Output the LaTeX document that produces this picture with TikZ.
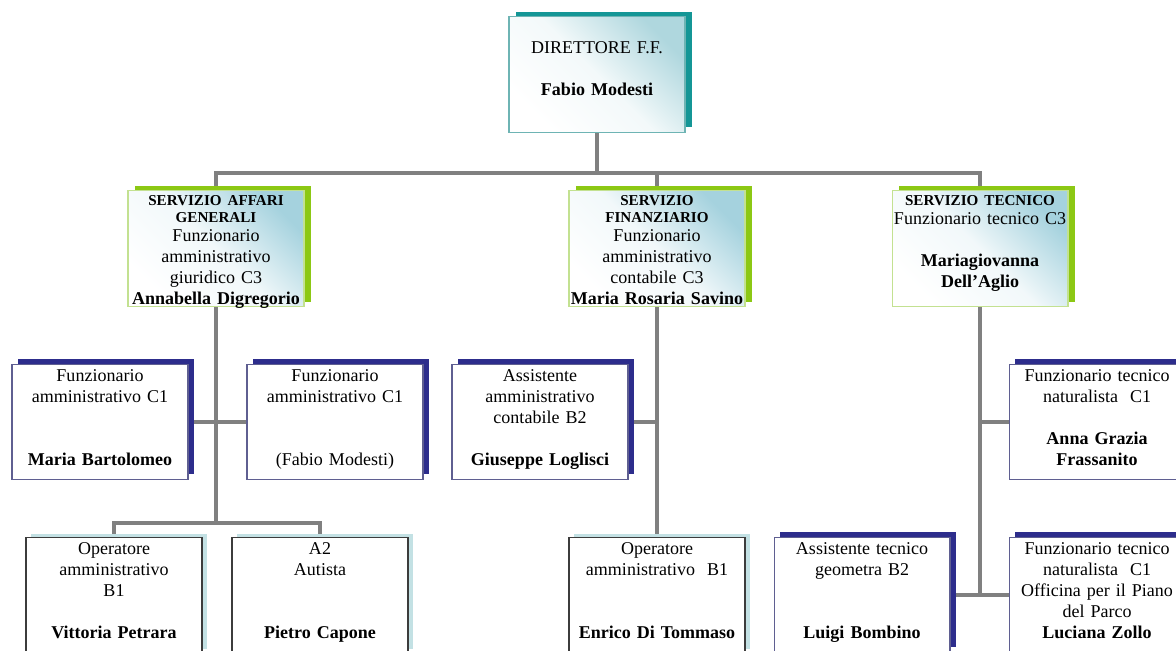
\documentclass[tikz,border=0pt]{standalone}
\usepackage{fontspec}
\setmainfont{Liberation Serif}
\usepackage{tikz}
\usetikzlibrary{shadows}

\definecolor{linegrey}{RGB}{128,128,128}
\definecolor{dirshadow}{RGB}{20,150,150}
\definecolor{dirborder}{RGB}{110,180,180}
\definecolor{dirtint}{RGB}{175,215,222}
\definecolor{headshadow}{RGB}{140,200,20}
\definecolor{headborder}{RGB}{195,225,145}
\definecolor{headtint}{RGB}{165,210,222}
\definecolor{staffshadow}{RGB}{45,45,140}
\definecolor{staffborder}{RGB}{95,95,145}
\definecolor{opshadow}{RGB}{195,225,228}
\definecolor{opborder}{RGB}{60,60,60}

\newcommand\headfont{\fontsize{8.6}{9.6}\selectfont\bfseries}

\pgfdeclarelayer{background}
\pgfsetlayers{background,main}

\tikzset{
	box/.style={shape=rectangle, anchor=north, inner sep=0pt, text width=3.52cm, align=center, line width=0.6pt, font=\fontsize{10.25}{11.9}\selectfont},
	topbox/.style={box, text height=0.74cm, text depth=1.58cm, draw=dirborder, top color=dirtint, bottom color=white, middle color=white!85!dirtint, shading angle=-45, drop shadow={shadow xshift=0.14cm, shadow yshift=0.1cm, fill=dirshadow, opacity=1}},
	headbox/.style={box, text height=0.30cm, text depth=2.02cm, draw=headborder, top color=headtint, bottom color=white, middle color=white!85!headtint, shading angle=-45, drop shadow={shadow xshift=0.14cm, shadow yshift=0.1cm, fill=headshadow, opacity=1}},
	staffbox/.style={box, text height=0.34cm, text depth=1.96cm, draw=staffborder, fill=white, drop shadow={shadow xshift=0.12cm, shadow yshift=0.12cm, fill=staffshadow, opacity=1}},
	opbox/.style={box, text height=0.34cm, text depth=1.96cm, draw=opborder, fill=white, drop shadow={shadow xshift=0.1cm, shadow yshift=0.08cm, fill=opshadow, opacity=1}},
	wire/.style={-, draw=linegrey, line width=2pt}
}

\begin{document}
\begin{tikzpicture}[x=0.02cm, y=-0.02cm]
	
	\useasboundingbox (0,0) rectangle (1176,651);
	\begin{pgfonlayer}{background}
		\fill[white] (0,0) rectangle (1176,651);
	\end{pgfonlayer}
	\clip (0,0) rectangle (1176,651);
	
	% direzione
	\node[topbox] (dir) at (597,16) {DIRETTORE F.F.\\~\\\textbf{Fabio Modesti}};
	
	% servizi
	\node[headbox] (sag) at (216,190) {{\headfont SERVIZIO AFFARI\\[-2.3pt]GENERALI}\\[-1pt]Funzionario\\amministrativo\\giuridico C3\\\textbf{Annabella Digregorio}};
	\node[headbox] (sf)  at (657,190) {{\headfont SERVIZIO\\[-2.3pt]FINANZIARIO}\\[-1pt]Funzionario\\amministrativo\\contabile C3\\\textbf{Maria Rosaria Savino}};
	\node[headbox] (st)  at (980,190) {{\headfont SERVIZIO TECNICO}\\[-1pt]Funzionario tecnico C3\\~\\\textbf{Mariagiovanna}\\\textbf{Dell'Aglio}};
	
	% affari generali
	\node[staffbox] (mb) at (100,364) {Funzionario\\amministrativo C1\\~\\~\\\textbf{Maria Bartolomeo}};
	\node[staffbox] (fm) at (335,364) {Funzionario\\amministrativo C1\\~\\~\\(Fabio Modesti)};
	\node[opbox]    (vp) at (114,537) {Operatore\\amministrativo\\B1\\~\\\textbf{Vittoria Petrara}};
	\node[opbox]    (pc) at (320,537) {A2\\Autista\\~\\~\\\textbf{Pietro Capone}};
	
	% finanziario
	\node[staffbox] (gl)  at (540,364) {Assistente\\amministrativo\\contabile B2\\~\\\textbf{Giuseppe Loglisci}};
	\node[opbox]    (edt) at (657,537) {Operatore\\amministrativo~~B1\\~\\~\\\textbf{Enrico Di Tommaso}};
	
	% tecnico
	\node[staffbox] (agf) at (1097,364) {Funzionario tecnico\\naturalista~~C1\\~\\\textbf{Anna Grazia}\\\textbf{Frassanito}};
	\node[staffbox] (lb)  at (862,537)  {Assistente tecnico\\geometra B2\\~\\~\\\textbf{Luigi Bombino}};
	\node[staffbox] (lz)  at (1097,537) {Funzionario tecnico\\naturalista~~C1\\Officina per il Piano\\del Parco\\\textbf{Luciana Zollo}};
	
	\begin{pgfonlayer}{background}
		\coordinate (bus) at (597,173);
		\coordinate (sagbus) at (216,523);
		\coordinate (stbus) at (980,595);
		
		\path[wire] (dir) edge (bus);
		\draw[wire] (sag.north) |- (bus) -| (st.north);
		\draw[wire] (sf.north) -- (sf.north |- bus);
		
		\path[wire] (sag) edge (sagbus);
		\path[wire] (mb) edge (fm);
		\draw[wire] (vp.north) |- (sagbus) -| (pc.north);
		
		\path[wire] (sf) edge (edt);
		\draw[wire] (gl) -- (gl -| sf);
		
		\path[wire] (st) edge (stbus);
		\path[wire] (lb) edge (lz);
		\draw[wire] (agf) -- (agf -| st);
	\end{pgfonlayer}
	
\end{tikzpicture}
\end{document}
